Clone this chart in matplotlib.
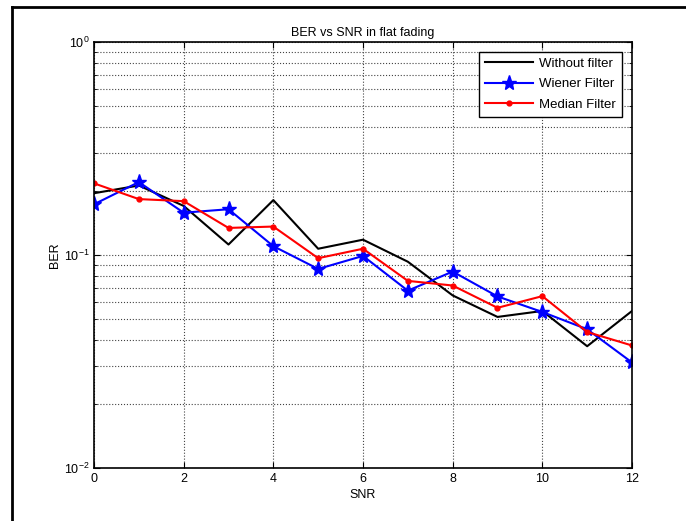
import matplotlib
matplotlib.use("Agg")
import matplotlib.pyplot as plt
from matplotlib.lines import Line2D
from matplotlib.ticker import LogLocator, NullFormatter, FixedLocator, FuncFormatter
import math

plt.rcParams['font.family'] = ['Liberation Sans', 'DejaVu Sans']
plt.rcParams['mathtext.fontset'] = 'custom'
plt.rcParams['mathtext.rm'] = 'Liberation Sans'
plt.rcParams['mathtext.it'] = 'Liberation Sans'
plt.rcParams['axes.unicode_minus'] = False

snr = [0, 1, 2, 3, 4, 5, 6, 7, 8, 9, 10, 11, 12]
ber_none = [0.195, 0.212, 0.170, 0.112, 0.181, 0.107, 0.118, 0.093, 0.0646, 0.0512, 0.0546, 0.0373, 0.0546]
ber_wiener = [0.173, 0.220, 0.158, 0.164, 0.110, 0.086, 0.099, 0.068, 0.0836, 0.0639, 0.054, 0.0448, 0.0313]
ber_median = [0.217, 0.183, 0.179, 0.134, 0.136, 0.0966, 0.107, 0.0756, 0.0719, 0.0565, 0.0641, 0.0435, 0.0376]
xticks = [0, 2, 4, 6, 8, 10, 12]

fig = plt.figure(figsize=(6.86, 5.21), dpi=100)
ax = fig.add_axes([94/686, 1-468/521, (632-94)/686, (468-42)/521])

ax.semilogy(snr, ber_none, color='black', lw=1.5, label='Without filter')
ax.semilogy(snr, ber_wiener, color='blue', lw=1.5, marker='*', markersize=11, label='Wiener Filter')
ax.semilogy(snr, ber_median, color='red', lw=1.5, marker='.', markersize=7, label='Median Filter')

ax.set_xlim(0, 12)
ax.set_ylim(1e-2, 1)
ax.xaxis.set_major_locator(FixedLocator(xticks))
ax.yaxis.set_major_locator(LogLocator(base=10, numticks=10))
ax.yaxis.set_major_formatter(FuncFormatter(lambda v, p: r'$\mathregular{10^{%d}}$' % round(math.log10(v))))
ax.yaxis.set_minor_locator(LogLocator(base=10, subs=range(2, 10), numticks=20))
ax.yaxis.set_minor_formatter(NullFormatter())
ax.grid(True, which='major', axis='both', color='#444444', ls=':', lw=0.8)
ax.grid(True, which='minor', axis='y', color='#444444', ls=':', lw=0.8)
ax.tick_params(which='both', direction='in', top=True, right=True, labelsize=9)
ax.tick_params(which='major', length=4)
ax.tick_params(which='minor', length=2)
ax.tick_params(axis='y', pad=3)
for s in ax.spines.values():
    s.set_linewidth(1.2)

ax.set_title('BER vs SNR in flat fading', fontsize=9, pad=4)
ax.set_xlabel('SNR', fontsize=9, labelpad=3)
ax.set_ylabel('BER', fontsize=9, labelpad=2)

leg = ax.legend(loc='upper right', fontsize=9.5, fancybox=False, framealpha=1,
                edgecolor='black', borderaxespad=0.75, handlelength=3.6,
                borderpad=0.45, labelspacing=0.62, handletextpad=0.5)
leg.get_frame().set_linewidth(1.0)

fig.add_artist(Line2D([12/686, 12/686], [0, 1-7/521], color='black', lw=2, transform=fig.transFigure))
fig.add_artist(Line2D([12/686, 1], [1-7/521, 1-7/521], color='black', lw=2, transform=fig.transFigure))

fig.savefig('out.png', dpi=100)
